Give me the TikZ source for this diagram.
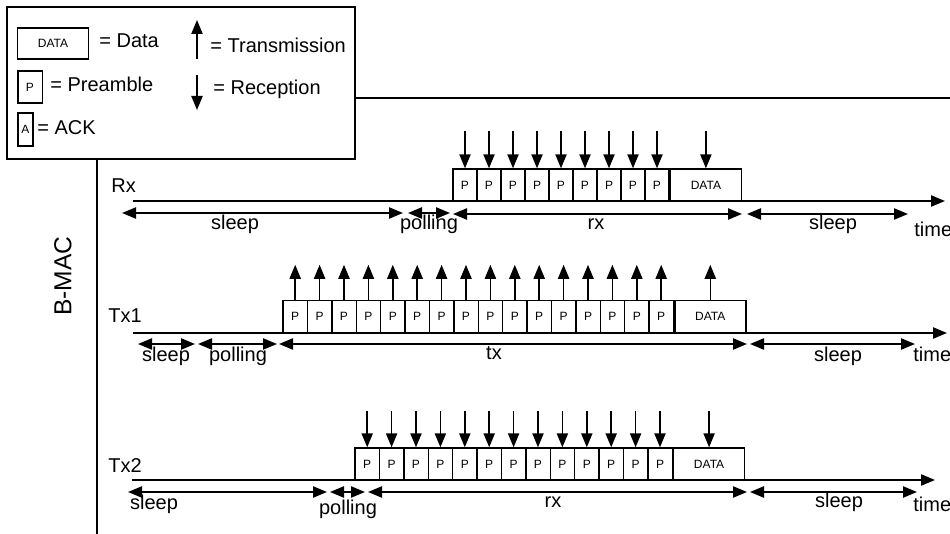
\documentclass[tikz,border=0pt]{standalone}
\usepackage{fontspec}
\setmainfont{Liberation Sans}
\usetikzlibrary{arrows.meta}
\tikzset{
  pkt/.style={draw, line width=0.7pt, minimum width=12.2pt, minimum height=16pt, inner sep=0pt, font=\fontsize{6}{7}\selectfont},
  datapkt/.style={pkt, minimum width=35.5pt},
  sig/.style={line width=0.8pt, -{Triangle[length=7pt,width=5.6pt]}},
  span/.style={line width=0.8pt, {Triangle[length=7pt,width=5.6pt]}-{Triangle[length=7pt,width=5.6pt]}},
  lbl/.style={font=\fontsize{10}{12}\selectfont, inner sep=0pt},
}

\begin{document}
\begin{tikzpicture}[x=0.5pt,y=0.5pt,yscale=-1,xscale=1]
\useasboundingbox (0,0) rectangle (950,534);

%Shape: Rectangle [legend]
\draw  [line width=0.8pt] (7,7) rectangle (355,159) ;
%Straight Lines [frame]
\draw  [line width=0.8pt]  (97,159) -- (97,534) ;
\draw  [line width=0.8pt]  (355,98) -- (950,98) ;

%Legend entries
\node[datapkt, minimum height=15.5pt] (lgdata) at (53,43.5) {DATA};
\node[lbl, anchor=base west] (lgdatatxt) at (99,48) {= Data};
\node[pkt] (lgpre) at (30,87) {P};
\node[lbl, anchor=base west] (lgpretxt) at (50,92) {= Preamble};
\node[pkt, minimum width=7.5pt, minimum height=16.5pt] (lgack) at (25.5,129.5) {A};
\node[lbl, anchor=base west] (lgacktxt) at (37,135) {= ACK};
\coordinate (lgtx) at (197,59);
\draw[sig] (lgtx) -- ++(0,-39);
\node[lbl, anchor=base west] (lgtxtxt) at (210,53) {= Transmission};
\coordinate (lgrx) at (197,75);
\draw[sig] (lgrx) -- ++(0,35);
\node[lbl, anchor=base west] (lgrxtxt) at (213,95) {= Reception};

%Text: protocol name
\node[font=\fontsize{12.3}{14}\selectfont, rotate=90, inner sep=0pt] (bmac) at (63,276) {B-MAC};

%%%%%%%%%%%%%%%% Rx %%%%%%%%%%%%%%%%
\node[lbl, anchor=base west] (rxname) at (111,193) {Rx};
%Straight Lines [time axis]
\draw[sig] (133,201) -- (945,201) ;
%Shape: Rectangle [preambles]
\foreach \i in {1,...,9} {
  \node[pkt, minimum width=12pt] (rxp\i) at ({453+(\i-0.5)*24},185) {P};
  \path (rxp\i.north) ++(0,-37) coordinate (rxa\i);
  \draw[sig] (rxa\i) -- (rxp\i.north);
}
\node[datapkt, anchor=west] (rxd) at (rxp9.east) {DATA};
\path (rxd.north) ++(0,-37) coordinate (rxda);
\draw[sig] (rxda) -- (rxd.north);
%Straight Lines [intervals]
\draw[span] (122,213) -- (403,213) ;
\draw[span] (408,213) -- (450,213) ;
\draw[span] (453,214) -- (742,214) ;
\draw[span] (747,214) -- (908,214) ;
\node[lbl, anchor=base] (rxs1) at (235,230) {sleep};
\node[lbl, anchor=base] (rxpo) at (429,230) {polling};
\node[lbl, anchor=base] (rxrx) at (596,230) {rx};
\node[lbl, anchor=base] (rxs2) at (833,230) {sleep};
\node[lbl, anchor=base west] (rxtime) at (914,237) {time};

%%%%%%%%%%%%%%%% Tx1 %%%%%%%%%%%%%%%%
\node[lbl, anchor=base west] (txname) at (108,323) {Tx1};
%Straight Lines [time axis]
\draw[sig] (133,333) -- (947,333) ;
%Shape: Rectangle [preambles]
\foreach \i in {1,...,16} {
  \node[pkt] (txp\i) at ({283+(\i-0.5)*24.4},316.5) {P};
  \draw[sig] (txp\i.north) -- ++(0,-35);
}
\node[datapkt, anchor=west] (txd) at (txp16.east) {DATA};
\draw[sig] (txd.north) -- ++(0,-35);
%Straight Lines [intervals]
\draw[span] (138,344) -- (195,344) ;
\draw[span] (198,344) -- (277,344) ;
\draw[span] (279,344) -- (747,344) ;
\draw[span] (750,344) -- (915,344) ;
\node[lbl, anchor=base] (txs1) at (166,362) {sleep};
\node[lbl, anchor=base] (txpo) at (238,362) {polling};
\node[lbl, anchor=base] (txtx) at (494,360) {tx};
\node[lbl, anchor=base] (txs2) at (838,362) {sleep};
\node[lbl, anchor=base west] (txtime) at (913,362) {time};

%%%%%%%%%%%%%%%% Tx2 %%%%%%%%%%%%%%%%
\node[lbl, anchor=base west] (oxname) at (108,473) {Tx2};
%Straight Lines [time axis]
\draw[sig] (132,480) -- (935,480) ;
%Shape: Rectangle [preambles]
\foreach \i in {1,...,13} {
  \node[pkt] (oxp\i) at ({355+(\i-0.5)*24.4},464) {P};
  \path (oxp\i.north) ++(0,-36) coordinate (oxa\i);
  \draw[sig] (oxa\i) -- (oxp\i.north);
}
\node[datapkt, anchor=west] (oxd) at (oxp13.east) {DATA};
\path (oxd.north) ++(0,-36) coordinate (oxda);
\draw[sig] (oxda) -- (oxd.north);
%Straight Lines [intervals]
\draw[span] (128,492) -- (327,492) ;
\draw[span] (330,492) -- (365,492) ;
\draw[span] (368,492) -- (747,492) ;
\draw[span] (750,492) -- (917,492) ;
\node[lbl, anchor=base] (oxs1) at (154,510) {sleep};
\node[lbl, anchor=base] (oxpo) at (348,515) {polling};
\node[lbl, anchor=base] (oxrx) at (553,508) {rx};
\node[lbl, anchor=base] (oxs2) at (839,508) {sleep};
\node[lbl, anchor=base west] (oxtime) at (913,512) {time};

\end{tikzpicture}
\end{document}
